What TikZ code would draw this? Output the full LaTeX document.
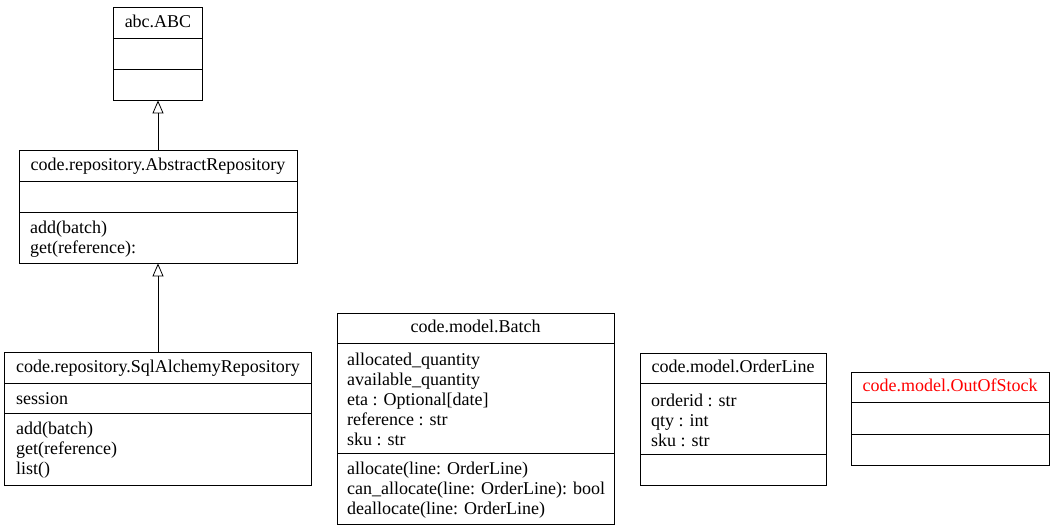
\documentclass[tikz,border=0pt]{standalone}
\usepackage{fontspec}
\setmainfont{Liberation Serif}
\usepackage{xcolor}
\usetikzlibrary{arrows.meta,positioning,calc}

\begin{document}
\begin{tikzpicture}[x=1pt, y=-1pt,
    umlbox/.style={draw, line width=0.8pt, inner sep=0pt},
    clsname/.style={font=\fontsize{18}{20}\selectfont, inner sep=0pt, text height=13pt, text depth=4pt},
    members/.style={font=\fontsize{18}{20}\selectfont, inner sep=0pt, align=left, anchor=west},
    inherit/.style={line width=0.8pt, -{Triangle[open, length=13pt, width=11pt]}}]
    \useasboundingbox (0,0) rectangle (1055,531);

    % abc.ABC
    \node[umlbox, minimum width=89pt, minimum height=93pt] (abc) at (158,53.5) {};
    \node[clsname] (abcname) at (158,22.5) {abc.ABC};
    \draw[line width=0.8pt] (113.5,38) -- (202.5,38);
    \draw[line width=0.8pt] (113.5,69) -- (202.5,69);

    % code.repository.AbstractRepository
    \node[umlbox, minimum width=278pt, minimum height=113pt] (absrepo) at (158,206.5) {};
    \node[clsname] (absreponame) at (158,165.5) {code.repository.AbstractRepository};
    \draw[line width=0.8pt] (19,181) -- (297,181);
    \draw[line width=0.8pt] (19,212) -- (297,212);
    \node[members] (absrepoops) at (30,239) {add(batch)\\get(reference):};

    % code.repository.SqlAlchemyRepository
    \node[umlbox, minimum width=307pt, minimum height=133pt] (sqlrepo) at (158,418.5) {};
    \node[clsname] (sqlreponame) at (158,367.5) {code.repository.SqlAlchemyRepository};
    \draw[line width=0.8pt] (4.5,383) -- (311.5,383);
    \draw[line width=0.8pt] (4.5,413) -- (311.5,413);
    \node[members] (sqlrepoattr) at (16,399) {session};
    \node[members] (sqlrepoops) at (16,450.5) {add(batch)\\get(reference)\\list()};

    % code.model.Batch
    \node[umlbox, minimum width=277pt, minimum height=211pt] (batch) at (475.5,418.5) {};
    \node[clsname] (batchname) at (475.5,328) {code.model.Batch};
    \draw[line width=0.8pt] (337,343) -- (614,343);
    \draw[line width=0.8pt] (337,453) -- (614,453);
    \node[members] (batchattr) at (347,399.5) {allocated\_quantity\\available\_quantity\\eta : Optional[date]\\reference : str\\sku : str};
    \node[members] (batchops) at (347,490) {allocate(line: OrderLine)\\can\_allocate(line: OrderLine): bool\\deallocate(line: OrderLine)};

    % code.model.OrderLine
    \node[umlbox, minimum width=186pt, minimum height=132pt] (orderline) at (733,419) {};
    \node[clsname] (orderlinename) at (733,368) {code.model.OrderLine};
    \draw[line width=0.8pt] (640,383) -- (826,383);
    \draw[line width=0.8pt] (640,454) -- (826,454);
    \node[members] (orderlineattr) at (651,420) {orderid : str\\qty : int\\sku : str};

    % code.model.OutOfStock
    \node[umlbox, minimum width=198pt, minimum height=93pt] (outofstock) at (950,418.5) {};
    \node[clsname, text=red] (outofstockname) at (950,387) {code.model.OutOfStock};
    \draw[line width=0.8pt] (851,402) -- (1049,402);
    \draw[line width=0.8pt] (851,434) -- (1049,434);

    % inheritance
    \draw[inherit] (absrepo.north) -- (abc.south);
    \draw[inherit] (sqlrepo.north) -- (absrepo.south);
\end{tikzpicture}
\end{document}
